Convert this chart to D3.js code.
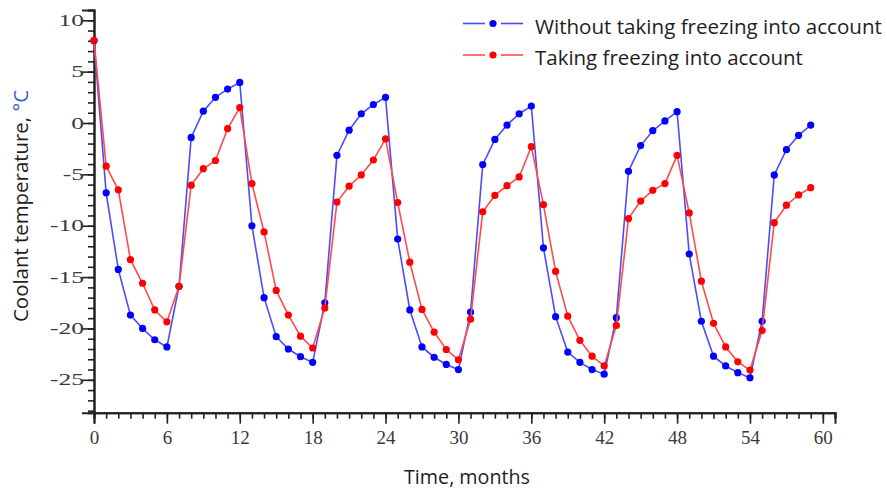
<!DOCTYPE html>
<html>
<head>
<meta charset="utf-8">
<script src="https://cdn.jsdelivr.net/npm/d3@7"></script>
<style>
  html, body { margin: 0; padding: 0; background: #fff; }
  svg { display: block; }
</style>
</head>
<body>
<svg id="chart" width="887" height="490"></svg>
<script>
// Coolant temperature over five years, monthly samples
const months = d3.range(0, 60);

const withoutFreezing = [
  8.0, -6.8, -14.25, -18.7, -20.0, -21.1, -21.8, -15.9, -1.4, 1.15, 2.5, 3.3,
  3.95, -10.0, -17.0, -20.8, -22.0, -22.75, -23.3, -17.5, -3.15, -0.7, 0.9, 1.8,
  2.5, -11.3, -18.2, -21.8, -22.8, -23.5, -24.0, -18.4, -4.05, -1.6, -0.2, 0.9,
  1.65, -12.15, -18.85, -22.3, -23.3, -24.0, -24.45, -18.95, -4.7, -2.2, -0.75, 0.2,
  1.1, -12.75, -19.3, -22.7, -23.65, -24.3, -24.8, -19.3, -5.05, -2.6, -1.2, -0.2
];

const withFreezing = [
  8.05, -4.2, -6.5, -13.3, -15.6, -18.2, -19.35, -15.9, -6.05, -4.45, -3.65, -0.55,
  1.5, -5.9, -10.6, -16.3, -18.7, -20.75, -21.9, -18.0, -7.7, -6.15, -5.05, -3.6,
  -1.55, -7.75, -13.55, -18.15, -20.35, -22.05, -23.05, -19.1, -8.65, -7.05, -6.1, -5.25,
  -2.3, -7.95, -14.45, -18.8, -21.15, -22.7, -23.65, -19.7, -9.3, -7.6, -6.55, -5.9,
  -3.15, -8.75, -15.4, -19.5, -21.8, -23.25, -24.05, -20.2, -9.7, -8.0, -7.0, -6.3
];

const seriesNames = ["Without taking freezing into account", "Taking freezing into account"];
const xTicks = [0, 6, 12, 18, 24, 30, 36, 42, 48, 54, 60];
const yTicks = [10, 5, 0, -5, -10, -15, -20, -25];

const svg = d3.select("#chart");

const x = d3.scaleLinear().domain([0, 61]).range([94, 835]);
const y = d3.scaleLinear().domain([-28.2, 11]).range([412.7, 10]);

const axisColor = "#222";
const tickFont = "'Liberation Serif', 'Times New Roman', serif";
const sansFont = "'Open Sans', Lato, sans-serif";

// scale a text's font size so its rendered width matches a target width
function fitWidth(sel, target, base) {
  sel.attr("font-size", base);
  const w = sel.node().getComputedTextLength();
  if (w > 0) sel.attr("font-size", (base * target / w).toFixed(2));
}

// ---- axes ----
const xAxisG = svg.append("g").attr("transform", `translate(0,${y.range()[0]})`);
xAxisG.call(d3.axisBottom(x).tickValues(d3.range(0, 62)).tickSize(6).tickFormat(""));
const xMajor = xAxisG.append("g").call(d3.axisBottom(x).tickValues(xTicks).tickSize(11)
  .tickPadding(7).tickFormat(d3.format("d")));
xMajor.selectAll("text").attr("font-size", 19);

const yAxisG = svg.append("g").attr("transform", `translate(${x.range()[0]},0)`);
yAxisG.call(d3.axisLeft(y).tickValues(d3.range(-28, 12)).tickSize(6).tickFormat(""));
const yMajor = yAxisG.append("g").call(d3.axisLeft(y).tickValues(yTicks).tickSize(12)
  .tickPadding(0).tickFormat(d => d < 0 ? "-" + Math.abs(d) : String(d)));
// y labels are drawn horizontally widened
const yStretch = 1.6;
yMajor.selectAll("text")
  .attr("font-size", 16)
  .attr("x", -10 / yStretch)
  .attr("transform", `scale(${yStretch},1)`);

svg.selectAll(".domain").attr("stroke", axisColor).attr("stroke-width", 2);
svg.selectAll(".tick line").attr("stroke", axisColor).attr("stroke-width", 1.6);
svg.selectAll(".tick text")
  .attr("font-family", tickFont)
  .attr("fill", "#3a3a3a");

// ---- series ----
const series = [
  { name: seriesNames[0], values: withoutFreezing, line: "#4b4bff", dot: "#0000ff" },
  { name: seriesNames[1], values: withFreezing, line: "#ff4b4b", dot: "#ff0000" }
];

const lineGen = d3.line().x((d, i) => x(months[i])).y(d => y(d));

series.forEach(s => {
  const g = svg.append("g");
  g.append("path")
    .datum(s.values)
    .attr("d", lineGen)
    .attr("fill", "none")
    .attr("stroke", s.line)
    .attr("stroke-width", 1.6);
  g.selectAll("circle")
    .data(s.values)
    .join("circle")
    .attr("cx", (d, i) => x(months[i]))
    .attr("cy", d => y(d))
    .attr("r", 3.6)
    .attr("fill", s.dot);
});

// ---- legend ----
const legend = svg.append("g");
const legendRows = [23.5, 55];
const legendWidths = [347, 268];
series.forEach((s, i) => {
  const cy = legendRows[i];
  legend.append("line").attr("x1", 463).attr("x2", 485).attr("y1", cy).attr("y2", cy)
    .attr("stroke", s.line).attr("stroke-width", 1.6);
  legend.append("line").attr("x1", 501).attr("x2", 523).attr("y1", cy).attr("y2", cy)
    .attr("stroke", s.line).attr("stroke-width", 1.6);
  legend.append("circle").attr("cx", 493).attr("cy", cy).attr("r", 3.6).attr("fill", s.dot);
  const t = legend.append("text")
    .attr("x", 535).attr("y", cy + 10)
    .attr("font-family", sansFont)
    .attr("fill", "#1e1e1e")
    .text(s.name);
  fitWidth(t, legendWidths[i], 18);
});

// ---- axis titles ----
const xTitle = svg.append("text")
  .attr("x", 467).attr("y", 484)
  .attr("text-anchor", "middle")
  .attr("font-family", sansFont)
  .attr("fill", "#1e1e1e")
  .text("Time, months");
fitWidth(xTitle, 126, 18);

const yTitle = svg.append("text")
  .attr("transform", "translate(28,206) rotate(-90)")
  .attr("text-anchor", "middle")
  .attr("font-family", sansFont)
  .attr("fill", "#1e1e1e");
yTitle.append("tspan").text("Coolant temperature, ");
yTitle.append("tspan").attr("fill", "#2f64d0").text("°C");
fitWidth(yTitle, 232, 18);
</script>
</body>
</html>
